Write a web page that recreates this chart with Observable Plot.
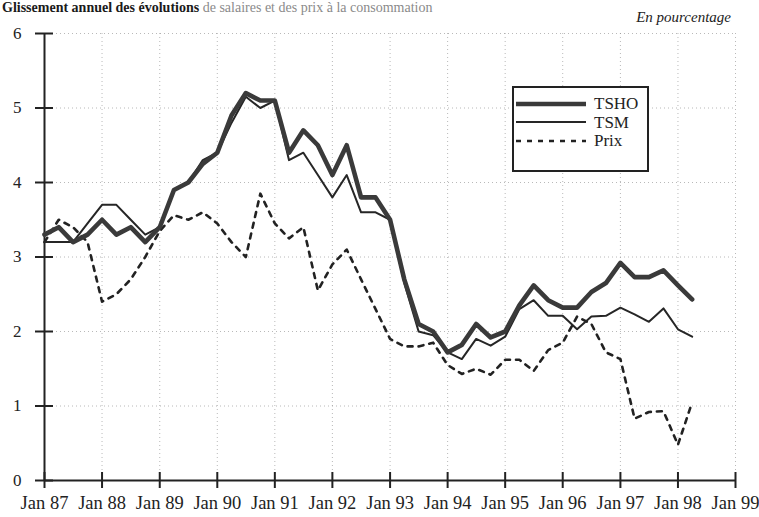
<!DOCTYPE html>
<html>
<head>
<meta charset="utf-8">
<script src="https://cdn.jsdelivr.net/npm/d3@7"></script>
<script src="https://cdn.jsdelivr.net/npm/@observablehq/plot@0.6"></script>
<style>
  body { margin: 0; background: #fff; }
  #wrap { position: relative; width: 759px; height: 517px; overflow: hidden; font-family: "Liberation Serif", serif; }
  #title { position: absolute; left: 2px; top: 0px; font-size: 14px; font-weight: bold; white-space: nowrap; color: #1a1a1a; }
  #title span { color: #8a8a8a; font-weight: normal; }
  #unit { position: absolute; right: 28px; top: 9px; font-size: 15px; font-style: italic; color: #222; }
  #legend { position: absolute; left: 512px; top: 86px; width: 133px; height: 82px; border: 2px solid #222; background: #fff; }
  .row { position: absolute; left: 2px; height: 17px; line-height: 17px; display: flex; align-items: center; font-size: 17px; color: #222; }
  .row svg { margin-right: 6px; }
</style>
</head>
<body>
<div id="wrap">
  <div id="chart"></div>
  <div id="title">Glissement annuel des évolutions <span>de salaires et des prix à la consommation</span></div>
  <div id="unit">En pourcentage</div>
  <div id="legend"></div>
</div>
<script>
// Quarterly periods
const periods = ["1987-01","1987-04","1987-07","1987-10","1988-01","1988-04","1988-07","1988-10",
  "1989-01","1989-04","1989-07","1989-10","1990-01","1990-04","1990-07","1990-10",
  "1991-01","1991-04","1991-07","1991-10","1992-01","1992-04","1992-07","1992-10",
  "1993-01","1993-04","1993-07","1993-10","1994-01","1994-04","1994-07","1994-10",
  "1995-01","1995-04","1995-07","1995-10","1996-01","1996-04","1996-07","1996-10",
  "1997-01","1997-04","1997-07","1997-10","1998-01","1998-04"];
const tsho = [3.3,3.4,3.2,3.3,3.5,3.3,3.4,3.2,3.4,3.9,4.0,4.25,4.4,4.9,5.2,5.1,5.1,4.4,4.7,4.5,4.1,4.5,3.8,3.8,3.5,2.7,2.1,2.0,1.72,1.82,2.1,1.92,2.0,2.35,2.62,2.42,2.32,2.32,2.53,2.65,2.92,2.73,2.73,2.82,2.62,2.43];
const tsm = [3.2,3.2,3.2,3.45,3.7,3.7,3.5,3.3,3.4,3.9,4.0,4.3,4.4,4.8,5.15,5.0,5.1,4.3,4.4,4.1,3.8,4.1,3.6,3.6,3.5,2.65,2.0,1.95,1.72,1.63,1.9,1.81,1.93,2.3,2.42,2.21,2.21,2.03,2.2,2.21,2.32,2.23,2.13,2.31,2.03,1.93];
const prix = [3.2,3.5,3.4,3.2,2.4,2.5,2.7,3.0,3.35,3.56,3.5,3.6,3.45,3.2,3.0,3.85,3.45,3.25,3.4,2.55,2.9,3.1,2.7,2.3,1.9,1.8,1.8,1.85,1.55,1.43,1.5,1.42,1.62,1.62,1.47,1.75,1.85,2.2,2.1,1.72,1.63,0.83,0.92,0.93,0.48,1.05];
const xTickDates = ["1987-01","1988-01","1989-01","1990-01","1991-01","1992-01","1993-01","1994-01","1995-01","1996-01","1997-01","1998-01","1999-01"];
const xTickLabels = ["Jan 87","Jan 88","Jan 89","Jan 90","Jan 91","Jan 92","Jan 93","Jan 94","Jan 95","Jan 96","Jan 97","Jan 98","Jan 99"];
const yTicks = [0,1,2,3,4,5,6];
const seriesNames = ["TSHO","TSM","Prix"];

const parse = d3.utcParse("%Y-%m");
const rows = periods.map((p, i) => ({date: parse(p), tsho: tsho[i], tsm: tsm[i], prix: prix[i]}));
const xTicks = xTickDates.map(parse);
const labelOf = new Map(xTicks.map((d, i) => [+d, xTickLabels[i]]));

const ink = "#222";
const plot = Plot.plot({
  width: 759, height: 517,
  marginLeft: 44, marginRight: 24, marginTop: 33, marginBottom: 37,
  style: {fontFamily: "Liberation Serif, serif", background: "transparent", color: ink},
  x: {type: "utc", domain: [xTicks[0], xTicks[xTicks.length - 1]]},
  y: {domain: [0, 6]},
  marks: [
    Plot.gridY(yTicks.slice(1), {stroke: "#8a8a8a", strokeOpacity: 0.6, strokeDasharray: "1,3"}),
    Plot.gridX(xTicks.slice(1), {stroke: "#8a8a8a", strokeOpacity: 0.6, strokeDasharray: "1,3"}),
    Plot.axisX(xTicks, {tickSize: 8, tickPadding: 7, strokeWidth: 2, fontSize: 18.5, tickFormat: d => labelOf.get(+d), label: null}),
    Plot.axisX(xTicks, {tickSize: 8, dy: -8, strokeWidth: 2, tickFormat: () => "", label: null}),
    Plot.axisY(yTicks, {tickSize: 9, tickPadding: 14, strokeWidth: 2, fontSize: 17, tickFormat: d => String(d), label: null}),
    Plot.axisY(yTicks, {tickSize: 9, dx: 9, strokeWidth: 2, tickFormat: () => "", label: null}),
    Plot.ruleY([0], {stroke: ink, strokeWidth: 2}),
    Plot.ruleX([xTicks[0]], {stroke: ink, strokeWidth: 2}),
    Plot.line(rows, {x: "date", y: "prix", stroke: ink, strokeWidth: 2.6, strokeDasharray: "5,6"}),
    Plot.line(rows, {x: "date", y: "tsm", stroke: "#262626", strokeWidth: 2}),
    Plot.line(rows, {x: "date", y: "tsho", stroke: "#3a3a3a", strokeWidth: 4.6})
  ]
});
document.getElementById("chart").appendChild(plot);

// Legend
const styles = [
  {w: 4.6, c: "#3a3a3a", dash: null},
  {w: 2, c: "#262626", dash: null},
  {w: 2.6, c: ink, dash: "5,6"}
];
const legend = document.getElementById("legend");
seriesNames.forEach((name, i) => {
  const row = document.createElement("div");
  row.className = "row";
  row.style.top = (7 + i * 18.5) + "px";
  const s = styles[i];
  row.innerHTML = `<svg width="72" height="10"><line x1="0" x2="70" y1="5" y2="5" stroke="${s.c}" stroke-width="${s.w}" ${s.dash ? `stroke-dasharray="${s.dash}"` : ""}/></svg><span>${name}</span>`;
  legend.appendChild(row);
});
</script>
</body>
</html>
